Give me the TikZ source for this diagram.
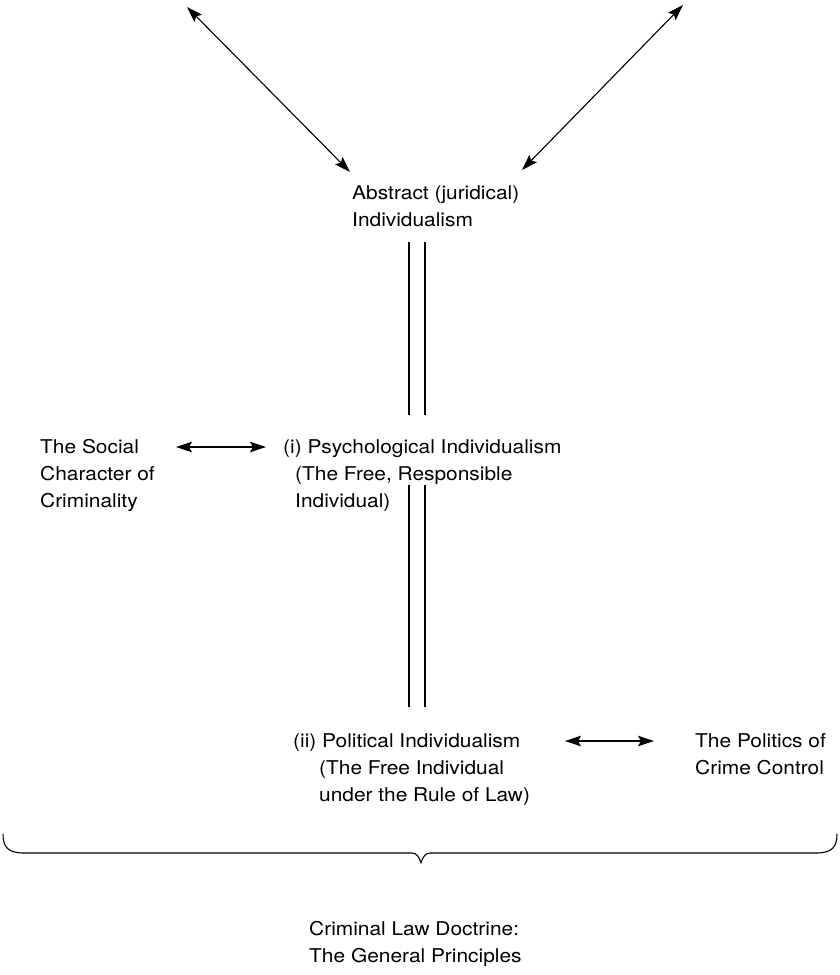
\documentclass[tikz,border=0pt]{standalone}
\usepackage{fontspec}
\setmainfont{TeX Gyre Heros}[FakeStretch=1.1]
\usetikzlibrary{arrows.meta}
\begin{document}
\begin{tikzpicture}[x=1pt,y=-1pt,
  % a multi-line node's base is the baseline of its last line
  lbl/.style={anchor=base west, inner sep=0pt, align=left,
    font=\fontsize{19}{27}\selectfont},
  biarrow/.style={line width=1.1pt,
    {Stealth[length=16pt,width=10.5pt,inset=3pt]}-{Stealth[length=16pt,width=10.5pt,inset=3pt]}},
  bar/.style={double distance=14.5pt, line width=1.4pt},
  brace/.style={line width=1.1pt, line join=round}]
\useasboundingbox (0,0) rectangle (840,975);

% text blocks
\node[lbl] (abs)  at (352,226) {Abstract (juridical)\\Individualism};
\node[lbl] (soc)  at (40,507)  {The Social\\Character of\\Criminality};
\node[lbl] (psy)  at (283,507) {(i) Psychological Individualism\\\hspace*{12pt}(The Free, Responsible\\\hspace*{12pt}Individual)};
\node[lbl] (pol)  at (293,801) {(ii) Political Individualism\\\hspace*{26pt}(The Free Individual\\\hspace*{26pt}under the Rule of Law)};
\node[lbl] (ctl)  at (695,774) {The Politics of\\Crime Control};
\node[lbl] (doc)  at (309,962) {Criminal Law Doctrine:\\The General Principles};

% free ends of the connectors
\coordinate (ulft) at (187,7);
\coordinate (urgt) at (683,5);
\coordinate (absl) at (350,172);
\coordinate (absr) at (522,170);
\coordinate (socr) at (176,447);
\coordinate (psyl) at (266,447);
\coordinate (poll) at (565,741);
\coordinate (ctll) at (654,741);
\coordinate (bar1t) at (417,242);
\coordinate (bar1b) at (417,415);
\coordinate (bar2t) at (417,485);
\coordinate (bar2b) at (417,707);

% connectors
\draw[biarrow] (ulft) -- (absl);
\draw[biarrow] (urgt) -- (absr);
\draw[biarrow] (socr) -- (psyl);
\draw[biarrow] (poll) -- (ctll);
\draw[bar] (bar1t) -- (bar1b);
\draw[bar] (bar2t) -- (bar2b);

% brace under the whole scheme
\coordinate (brl) at (3,834);
\coordinate (brr) at (837,834);
\coordinate (brtip) at (421,863);
\draw[brace] (brl) .. controls (3,847) and (8,853) .. (24,853)
  -- (412,853) .. controls (416,853) and (419,856) .. (brtip)
  .. controls (423,856) and (426,853) .. (430,853)
  -- (816,853) .. controls (832,853) and (837,847) .. (brr);
\end{tikzpicture}
\end{document}
